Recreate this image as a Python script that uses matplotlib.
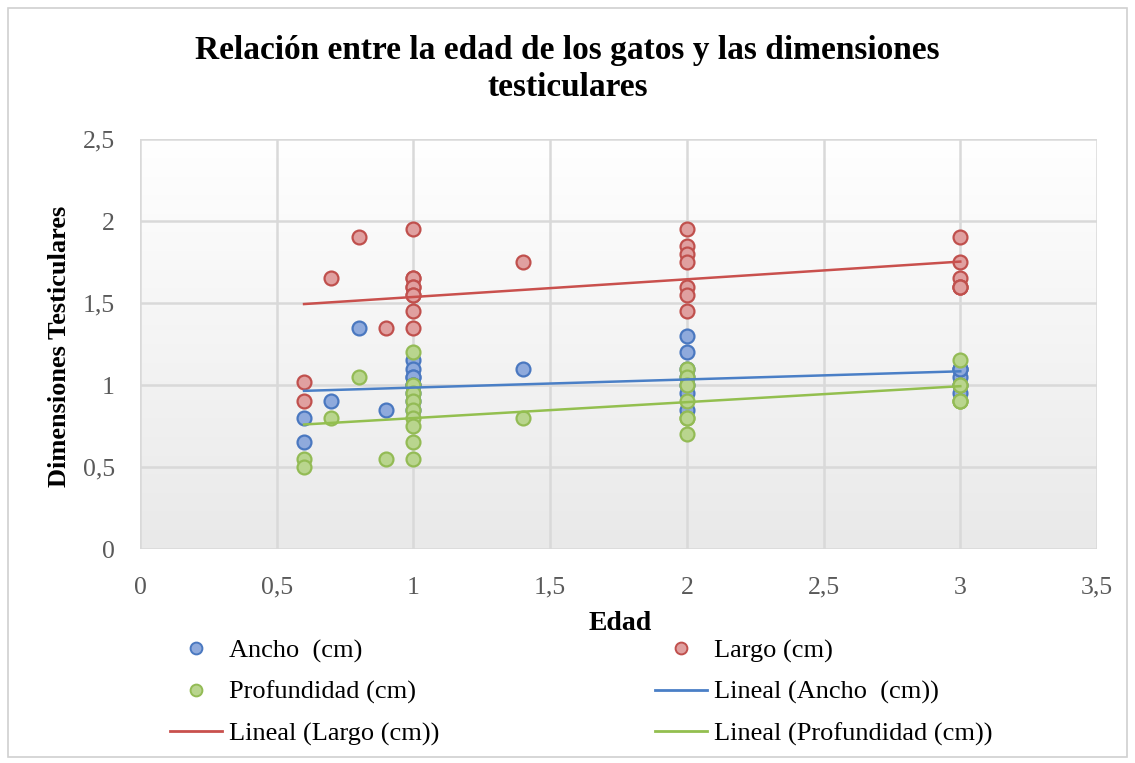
import numpy as np
import matplotlib
matplotlib.use("Agg")
import matplotlib.pyplot as plt
from matplotlib.lines import Line2D
from matplotlib.patches import Rectangle
from matplotlib.colors import LinearSegmentedColormap

plt.rcParams['font.family'] = ['Liberation Serif', 'DejaVu Serif']

# ---- data (one value per cat; overlapping points estimated) ----
edad = [0.6, 0.6, 0.7, 0.8, 0.9,
        1, 1, 1, 1, 1, 1, 1, 1, 1,
        1.4,
        2, 2, 2, 2, 2, 2, 2,
        3, 3, 3, 3, 3, 3]
ancho = [0.8, 0.65, 0.9, 1.35, 0.85,
         1.15, 1.1, 1.05, 1.05, 1.0, 1.0, 0.95, 0.9, 0.85,
         1.1,
         1.3, 1.2, 1.1, 1.05, 1.0, 0.95, 0.85,
         1.1, 1.05, 1.0, 0.95, 1.1, 1.1]
largo = [1.02, 0.9, 1.65, 1.9, 1.35,
         1.95, 1.65, 1.65, 1.6, 1.6, 1.55, 1.55, 1.45, 1.35,
         1.75,
         1.95, 1.85, 1.8, 1.75, 1.6, 1.55, 1.45,
         1.9, 1.75, 1.65, 1.6, 1.6, 1.6]
profundidad = [0.55, 0.5, 0.8, 1.05, 0.55,
               1.2, 1.0, 0.95, 0.9, 0.85, 0.8, 0.75, 0.65, 0.55,
               0.8,
               1.1, 1.05, 1.0, 0.9, 0.8, 0.8, 0.7,
               1.15, 1.0, 0.9, 0.9, 1.0, 0.9]

x_ticks = [0, 0.5, 1, 1.5, 2, 2.5, 3, 3.5]
x_tick_labels = ["0", "0,5", "1", "1,5", "2", "2,5", "3", "3,5"]
y_ticks = [0, 0.5, 1, 1.5, 2, 2.5]
y_tick_labels = ["0", "0,5", "1", "1,5", "2", "2,5"]

title = "Relación entre la edad de los gatos y las dimensiones\ntesticulares"

# ---- styles ----
blue_face, blue_edge, blue_line = "#8faadc", "#4a78c0", "#4a7fc6"
red_face, red_edge, red_line = "#e0a0a0", "#c0504d", "#c9504d"
green_face, green_edge, green_line = "#b9d58e", "#93bb55", "#93bf4f"

W, H = 1135, 763
fig = plt.figure(figsize=(W / 100, H / 100), dpi=100)
fig.patch.set_facecolor("white")
fig.patches.append(Rectangle((8 / W, 1 - 757 / H), (1127 - 8) / W, (757 - 8) / H,
                             transform=fig.transFigure, fill=False,
                             edgecolor="#d0d0d0", linewidth=1.2))

ax = fig.add_axes([140 / W, 1 - 549 / H, (1097 - 140) / W, (549 - 139) / H])
ax.set_xlim(0, 3.5)
ax.set_ylim(0, 2.5)

# gradient background of the plot area
grad = np.linspace(1, 0, 256).reshape(-1, 1)
cmap = LinearSegmentedColormap.from_list("g", ["#e9e9e9", "#ffffff"])
ax.imshow(grad, extent=[0, 1, 0, 1], transform=ax.transAxes, aspect="auto",
          cmap=cmap, zorder=0, origin="upper")

ax.set_xticks(x_ticks)
ax.set_xticklabels(x_tick_labels)
ax.set_yticks(y_ticks)
ax.set_yticklabels(y_tick_labels)
ax.grid(True, color="#d9d9d9", linewidth=1.8, zorder=1)
ax.set_axisbelow(True)
for s in ax.spines.values():
    s.set_visible(False)
ax.tick_params(length=0, labelsize=18.5, colors="#595959")
ax.tick_params(axis="x", pad=20)
ax.tick_params(axis="y", pad=18)

ms = 10
ax.plot(edad, ancho, "o", ms=ms, mfc=blue_face, mec=blue_edge, mew=1.6, zorder=3)
ax.plot(edad, largo, "o", ms=ms, mfc=red_face, mec=red_edge, mew=1.6, zorder=3)
ax.plot(edad, profundidad, "o", ms=ms, mfc=green_face, mec=green_edge, mew=1.6, zorder=3)

def trend(xs, ys, color):
    m, b = np.polyfit(xs, ys, 1)
    xx = np.array([min(xs), max(xs)])
    ax.plot(xx, m * xx + b, "-", color=color, lw=1.8, zorder=4)

trend(edad, ancho, blue_line)
trend(edad, largo, red_line)
trend(edad, profundidad, green_line)

fig.text(0.5, 1 - 69 / H, title, ha="center", va="center", fontsize=24,
         fontweight="bold", linespacing=1.28)
fig.text(60 / W, 1 - 346 / H, "Dimensiones Testiculares", rotation=90,
         ha="center", va="center", fontsize=19, fontweight="bold")
fig.text(620 / W, 1 - 623 / H, "Edad", ha="center", va="center", fontsize=20,
         fontweight="bold")

def mk(face, edge):
    return Line2D([], [], ls="none", marker="o", ms=8.5, mfc=face, mec=edge, mew=1.4)

def ln(color):
    return Line2D([], [], color=color, lw=2)

leg_kw = dict(loc="upper left", frameon=False, fontsize=19, handlelength=1.97,
              handletextpad=0.25, labelspacing=0.66, borderpad=0, borderaxespad=0)
leg1 = fig.legend([mk(blue_face, blue_edge), mk(green_face, green_edge), ln(red_line)],
                  ["Ancho  (cm)", "Profundidad (cm)", "Lineal (Largo (cm))"],
                  bbox_to_anchor=(170 / W, 1 - 639 / H), **leg_kw)
leg2 = fig.legend([mk(red_face, red_edge), ln(blue_line), ln(green_line)],
                  ["Largo (cm)", "Lineal (Ancho  (cm))", "Lineal (Profundidad (cm))"],
                  bbox_to_anchor=(655 / W, 1 - 639 / H), **leg_kw)

fig.savefig("out.png", dpi=100)
